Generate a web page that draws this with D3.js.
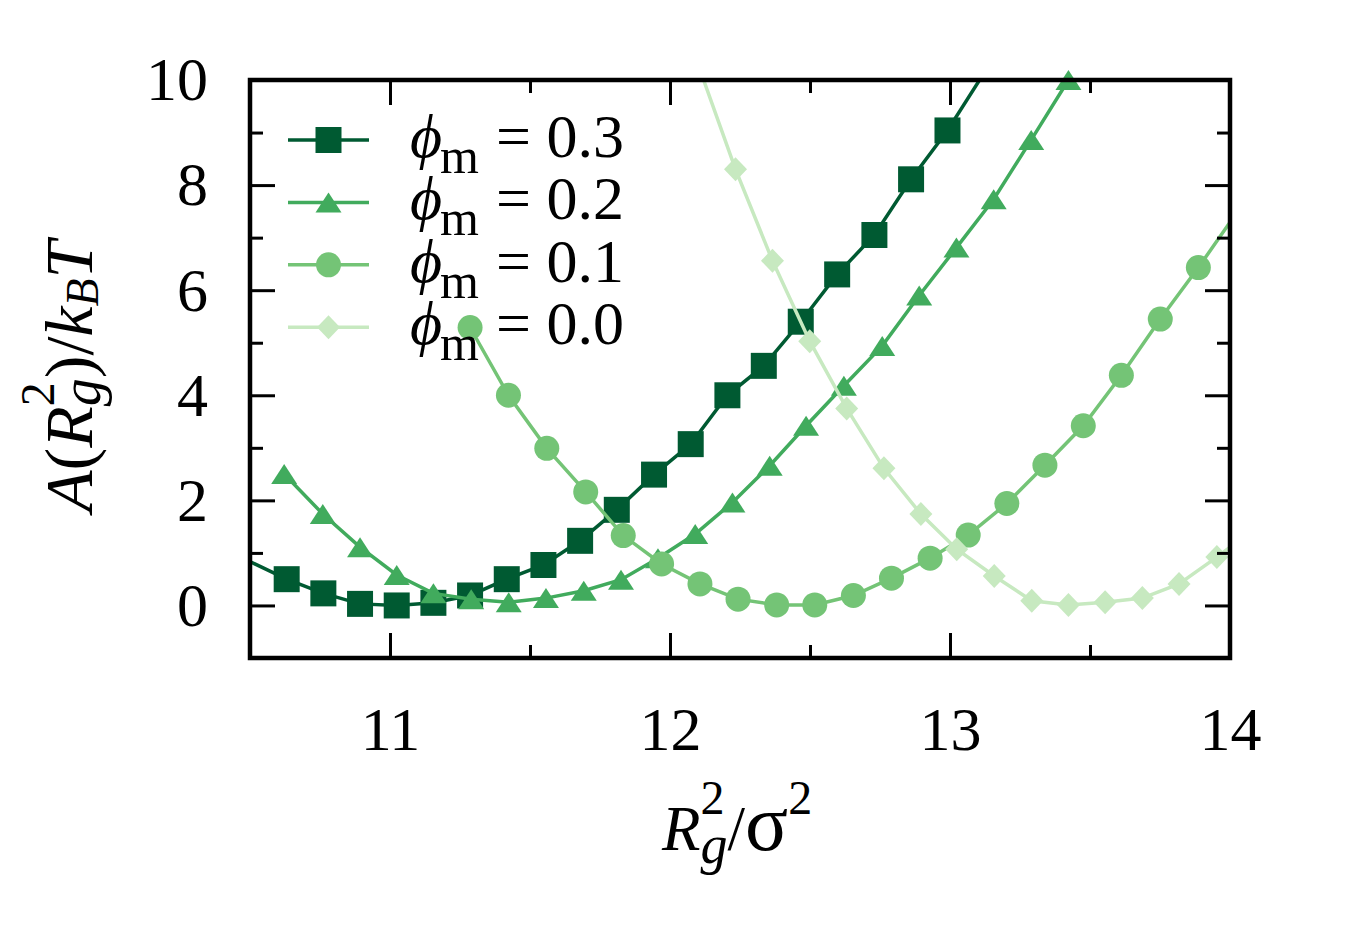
<!DOCTYPE html>
<html>

<head>
    <meta charset="utf-8">
    <style type="text/css">
        body {
            margin: 0;
            background: #fff;
        }

        text {
            font-family: "Liberation Serif", "Times New Roman", serif;
            fill: #000;
        }

        .frame {
            fill: none;
            stroke: #000;
            stroke-width: 4.5;
        }

        .axis line {
            stroke: #000;
            stroke-width: 3;
        }

        .axis path.domain {
            display: none;
        }

        .axis text {
            font-family: "Liberation Serif", "Times New Roman", serif;
            font-size: 62px;
        }

        .curve {
            fill: none;
            stroke-width: 3.5;
        }
    </style>
    <title>Free energy</title>
</head>

<body>
    <svg id="graph"></svg>

    <script src="https://cdn.jsdelivr.net/npm/d3@7"></script>
    <script>
        // Data
        var phiLabels = ['0.3', '0.2', '0.1', '0.0'];

        // phi_m = 0.3 (squares); first and last points lie outside the axes
        var x03 = [10.49, 10.631, 10.762, 10.893, 11.024, 11.155, 11.286, 11.417, 11.548, 11.679, 11.81,
            11.943, 12.074, 12.205, 12.335, 12.467, 12.597, 12.730, 12.861, 12.991, 13.12];
        var y03 = [0.86, 0.50, 0.23, 0.03, 0.0, 0.05, 0.19, 0.50, 0.77, 1.23, 1.82,
            2.49, 3.07, 4.0, 4.56, 5.40, 6.30, 7.05, 8.11, 9.04, 10.12];

        // phi_m = 0.2 (triangles)
        var x02 = [10.622, 10.76, 10.893, 11.024, 11.155, 11.29, 11.424, 11.557, 11.692, 11.825, 11.957,
            12.09, 12.223, 12.356, 12.486, 12.621, 12.758, 12.89, 13.023, 13.156, 13.29, 13.423];
        var y02 = [2.50, 1.74, 1.11, 0.58, 0.23, 0.12, 0.06, 0.14, 0.28, 0.49, 0.90,
            1.36, 1.96, 2.66, 3.42, 4.18, 4.94, 5.90, 6.81, 7.73, 8.86, 10.0];

        // phi_m = 0.1 (circles); last point lies outside the axes
        var x01 = [11.286, 11.423, 11.56, 11.699, 11.833, 11.97, 12.107, 12.243, 12.381, 12.517, 12.655,
            12.791, 12.929, 13.065, 13.203, 13.339, 13.476, 13.612, 13.751, 13.887, 14.022];
        var y01 = [5.29, 4.0, 2.99, 2.16, 1.33, 0.79, 0.41, 0.12, 0.01, 0.01, 0.19,
            0.52, 0.90, 1.34, 1.94, 2.67, 3.42, 4.38, 5.45, 6.43, 7.46];

        // phi_m = 0.0 (diamonds); first and last points lie outside the axes
        var x00 = [12.102, 12.234, 12.366, 12.499, 12.631, 12.764, 12.896, 13.024, 13.158, 13.292, 13.423,
            13.554, 13.687, 13.818, 13.953, 14.085];
        var y00 = [10.27, 8.30, 6.56, 5.03, 3.75, 2.61, 1.74, 1.07, 0.56, 0.09, 0.01,
            0.06, 0.14, 0.41, 0.92, 1.45];

        var xMajor = [11, 12, 13, 14];
        var xMinor = [10.5, 11.5, 12.5, 13.5];
        var yMajor = [0, 2, 4, 6, 8, 10];
        var yMinor = [1, 3, 5, 7, 9];

        var colors = ['#005a32', '#41ab5d', '#74c476', '#c7e9c0'];
        var shapes = ['square', 'triangle', 'circle', 'diamond'];

        var seriesX = [x03, x02, x01, x00];
        var seriesY = [y03, y02, y01, y00];

        // Margins
        var W = 1350, H = 944;
        var margin = { top: 80, left: 250, right: 120, bottom: 286 };
        var width = W - margin.left - margin.right,
            height = H - margin.top - margin.bottom;

        var svg = d3.select('#graph')
            .attr('width', W)
            .attr('height', H);

        // Scales
        var x = d3.scaleLinear().domain([10.5, 14]).range([margin.left, margin.left + width]);
        var y = d3.scaleLinear().domain([-1, 10]).range([margin.top + height, margin.top]);

        svg.append('defs').append('clipPath')
            .attr('id', 'plotClip')
            .append('rect')
            .attr('x', margin.left).attr('y', margin.top)
            .attr('width', width).attr('height', height);

        // Marker shapes
        function markerPath(shape) {
            if (shape == 'square') return 'M-13,-13H13V13H-13Z';
            if (shape == 'triangle') return 'M0,-10L13,10L-13,10Z';
            if (shape == 'diamond') return 'M0,-12L11.5,0L0,12L-11.5,0Z';
            return d3.symbol(d3.symbolCircle, Math.PI * 12.5 * 12.5)();
        }

        function inside(d) {
            var xd = x.domain(), yd = y.domain();
            return d.x >= xd[0] && d.x <= xd[1] && d.y >= yd[0] && d.y <= yd[1];
        }

        // Curves
        var line = d3.line().x(d => x(d.x)).y(d => y(d.y));

        seriesX.forEach(function (xs, i) {
            var pts = xs.map((v, j) => ({ x: v, y: seriesY[i][j] }));
            var g = svg.append('g');
            g.append('path')
                .datum(pts)
                .attr('class', 'curve')
                .attr('clip-path', 'url(#plotClip)')
                .attr('stroke', colors[i])
                .attr('d', line);
            g.selectAll('.mk')
                .data(pts.filter(inside))
                .enter().append('path')
                .attr('class', 'mk')
                .attr('d', markerPath(shapes[i]))
                .attr('fill', colors[i])
                .attr('transform', d => translation(x(d.x), y(d.y)));
        });

        // Axes (ticks inward on all four sides)
        function addAxis(axis, tx, ty, values, size, labels) {
            var a = axis.tickValues(values).tickSize(-size)
                .tickFormat(labels ? d3.format('d') : '');
            return svg.append('g')
                .attr('class', 'axis')
                .attr('transform', translation(tx, ty))
                .call(a);
        }

        var bottom = margin.top + height, right = margin.left + width;

        addAxis(d3.axisBottom(x).tickPadding(48), 0, bottom, xMajor, 25, true);
        addAxis(d3.axisBottom(x), 0, bottom, xMinor, 13, false);
        addAxis(d3.axisTop(x), 0, margin.top, xMajor, 25, false);
        addAxis(d3.axisTop(x), 0, margin.top, xMinor, 13, false);
        addAxis(d3.axisLeft(y).tickPadding(42), margin.left, 0, yMajor, 25, true);
        addAxis(d3.axisLeft(y), margin.left, 0, yMinor, 13, false);
        addAxis(d3.axisRight(y), right, 0, yMajor, 25, false);
        addAxis(d3.axisRight(y), right, 0, yMinor, 13, false);

        svg.selectAll('.axis text').attr('fill', '#000');

        svg.append('rect')
            .attr('class', 'frame')
            .attr('x', margin.left).attr('y', margin.top)
            .attr('width', width).attr('height', height);

        // Axis labels
        var xl = svg.append('text')
            .attr('x', 662).attr('y', 850)
            .style('font-size', '63px');
        xl.append('tspan').style('font-style', 'italic').text('R');
        xl.append('tspan').attr('dy', -36).style('font-size', '48px').text('2');
        xl.append('tspan').attr('dx', -24).attr('dy', 49).style('font-size', '54px').style('font-style', 'italic').text('g');
        xl.append('tspan').attr('dy', -13).text('/');
        xl.append('tspan').style('font-size', '80px').text('σ');
        xl.append('tspan').attr('dy', -36).style('font-size', '48px').text('2');

        var yl = svg.append('text')
            .attr('transform', translation(92, 512) + ' rotate(-90)')
            .style('font-size', '68px');
        yl.append('tspan').style('font-style', 'italic').text('A');
        yl.append('tspan').text('(');
        yl.append('tspan').style('font-style', 'italic').text('R');
        yl.append('tspan').attr('dy', -38).style('font-size', '48px').text('2');
        yl.append('tspan').attr('dx', -24).attr('dy', 46).style('font-size', '56px').style('font-style', 'italic').text('g');
        yl.append('tspan').attr('dy', -8).text(')/');
        yl.append('tspan').style('font-style', 'italic').text('k');
        yl.append('tspan').attr('dy', 6).style('font-size', '46px').style('font-style', 'italic').text('B');
        yl.append('tspan').attr('dy', -6).style('font-style', 'italic').text('T');

        // Legend
        var legend = svg.append('g');
        phiLabels.forEach(function (lab, i) {
            var ly = 140 + i * 62.4;
            var row = legend.append('g').attr('transform', translation(0, ly));
            row.append('line')
                .attr('x1', 288).attr('x2', 369)
                .attr('stroke', colors[i]).attr('stroke-width', 3.5);
            row.append('path')
                .attr('d', markerPath(shapes[i]))
                .attr('fill', colors[i])
                .attr('transform', translation(328.5, 0));
            var t = row.append('text').attr('y', 17).style('font-size', '62px');
            t.append('tspan').attr('x', 410).style('font-style', 'italic').text('\u03D5');
            t.append('tspan').attr('x', 440).attr('dy', 16).style('font-size', '50px').text('m');
            t.append('tspan').attr('x', 496).attr('dy', -16).text('= ' + lab);
        });

        // Misc
        function translation(x, y) {
            return 'translate(' + x + ',' + y + ')';
        }
    </script>
</body>

</html>
